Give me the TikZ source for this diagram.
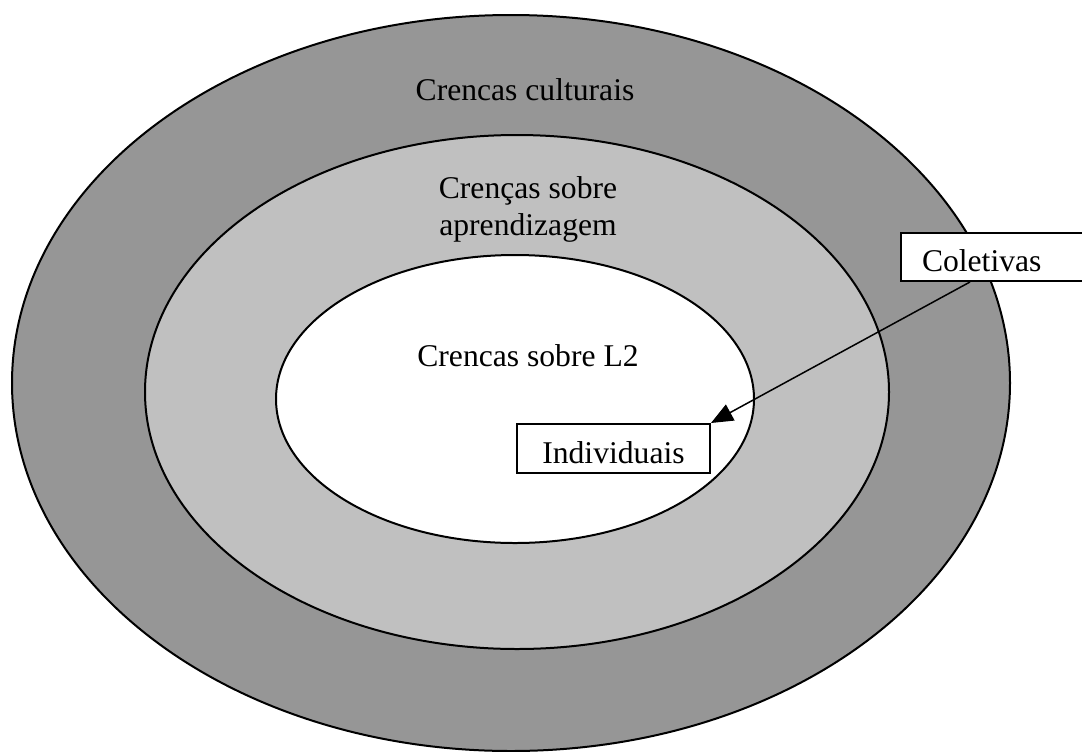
\documentclass[tikz,border=0pt]{standalone}
\usepackage{fontspec}
\setmainfont{Liberation Serif}
\usetikzlibrary{arrows.meta}

\definecolor{ringdark}{gray}{0.588}
\definecolor{ringlight}{gray}{0.753}

\tikzset{
  ring/.style={draw=black,line width=0.04cm},
  label/.style={font=\fontsize{18}{21}\selectfont,inner sep=0pt},
  tagbox/.style={draw=black,fill=white,line width=0.04cm,inner ysep=0pt,
    font=\fontsize{18}{21}\selectfont,text height=0.78cm,anchor=north west},
  pointer/.style={line width=0.03cm,-{Triangle[length=0.44cm,width=0.36cm]}}
}

\begin{document}
\begin{tikzpicture}[x=0.02cm,y=-0.02cm]
    \useasboundingbox (0,0) rectangle (1082,751);
    % rings, outside to inside
    \filldraw[ring,fill=ringdark] (511,383) ellipse [x radius=499, y radius=368];
    \filldraw[ring,fill=ringlight] (517,392) ellipse [x radius=372, y radius=257];
    \filldraw[ring,fill=white] (515,399) ellipse [x radius=239, y radius=144];
    % ring labels
    \node[label,anchor=base] (cultural) at (525,100) {Crencas culturais};
    \node[label,align=center] (learning) at (528,209) {Crenças sobre\\aprendizagem};
    \node[label,anchor=base] (secondlang) at (528,366) {Crencas sobre L2};
    % boxes
    \node[tagbox,text width=3cm,inner xsep=0.42cm,align=left,text depth=0.18cm]
        (coletivas) at (900,232) {Coletivas};
    \node[tagbox,minimum width=3.86cm,text depth=0.2cm]
        (individuais) at (516,423) {Individuais};
    \draw[pointer] ([xshift=1.4cm]coletivas.south west) -- (individuais.north east);
\end{tikzpicture}
\end{document}
